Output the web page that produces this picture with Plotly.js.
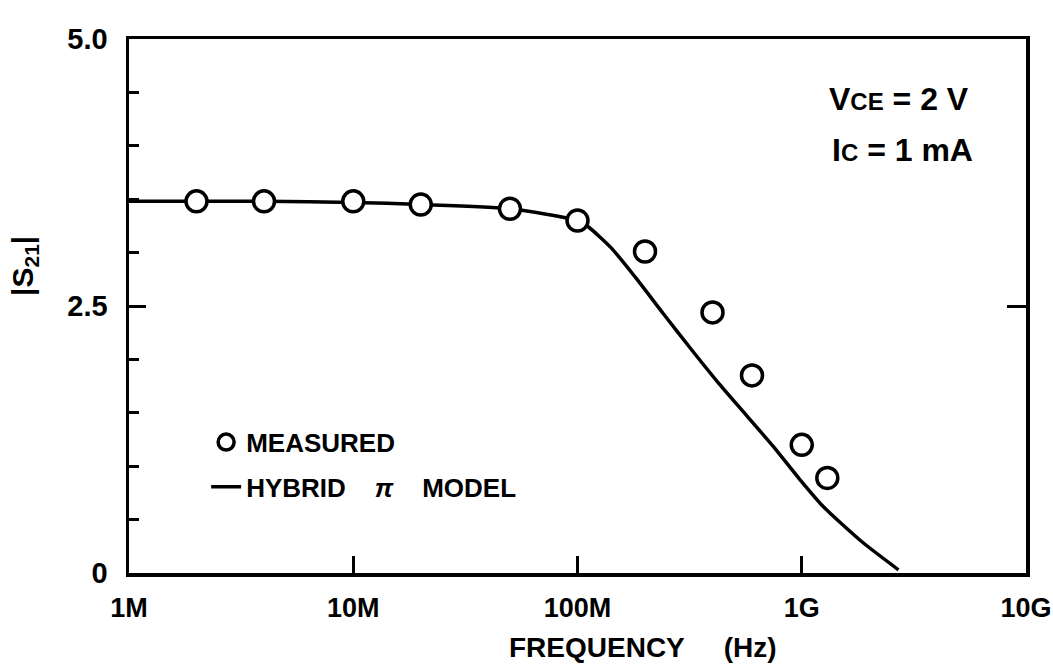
<!DOCTYPE html>
<html>
<head>
<meta charset="utf-8">
<script src="https://cdn.plot.ly/plotly-3.0.1.min.js"></script>
<style>html,body{margin:0;padding:0;background:#fff;}#chart{width:1053px;height:665px;}</style>
</head>
<body>
<div id="chart"></div>
<script>
// Measured |S21| points
const measuredFreq = [2e6, 4e6, 1e7, 2e7, 5e7, 1e8, 2e8, 4e8, 6e8, 1e9, 1.3e9];
const measuredS21  = [3.48, 3.48, 3.48, 3.45, 3.41, 3.30, 3.01, 2.44, 1.85, 1.20, 0.89];

// Hybrid-pi model curve
const modelFreq = [1e6, 2e6, 4e6, 1e7, 2e7, 5e7, 1e8, 1.12e8, 1.42e8, 1.81e8, 2.41e8, 3.2e8, 4.21e8, 5.59e8, 7.43e8, 9.77e8, 1.25e9, 1.86e9, 2.7e9];
const modelS21  = [3.48, 3.48, 3.48, 3.47, 3.45, 3.41, 3.30, 3.24, 3.04, 2.77, 2.43, 2.10, 1.79, 1.49, 1.19, 0.88, 0.62, 0.29, 0.03];

const xTickVals = [1e6, 1e7, 1e8, 1e9, 1e10];
const xTickText = ['1M', '10M', '100M', '1G', '10G'];
const yTickVals = [0, 2.5, 5];
const yTickText = ['0', '2.5', '5.0'];

const FONT = 'Liberation Sans, Arial, sans-serif';
const NB = '\u00a0';

const traces = [
  {
    x: modelFreq, y: modelS21, type: 'scatter', mode: 'lines',
    name: 'HYBRID' + NB + NB + NB + NB + '<i>π</i>' + NB + NB + NB + NB + 'MODEL',
    line: {color: '#000', width: 3.5, shape: 'spline', smoothing: 0.6},
    legendgroup: 'b', legendrank: 2, hoverinfo: 'skip'
  },
  {
    x: measuredFreq, y: measuredS21, type: 'scatter', mode: 'markers',
    yaxis: 'y2',
    name: 'MEASURED',
    marker: {symbol: 'circle', size: 21, color: '#fff', line: {color: '#000', width: 3.5}},
    legendgroup: 'a', legendrank: 1
  }
];

const layout = {
  width: 1053, height: 665,
  margin: {l: 129, r: 27, t: 39, b: 92},
  paper_bgcolor: '#fff', plot_bgcolor: '#fff',
  font: {family: FONT, color: '#000'},
  showlegend: true,
  legend: {
    x: 0.086, y: 0.289, xanchor: 'left', yanchor: 'top',
    bgcolor: 'rgba(0,0,0,0)', borderwidth: 0,
    font: {family: FONT, size: 26, weight: 'bold', color: '#000'},
    traceorder: 'grouped', tracegroupgap: 8
  },
  xaxis: {
    type: 'log', range: [6, 10],
    tickvals: xTickVals, ticktext: xTickText,
    ticks: 'inside', ticklen: 17, tickwidth: 3, tickcolor: '#000',
    showline: true, linewidth: 3.5, linecolor: '#000', mirror: true,
    showgrid: false, zeroline: false,
    tickfont: {family: FONT, size: 27, weight: 'bold', color: '#000'},
    ticklabelstandoff: 8
  },
  yaxis: {
    range: [0, 5],
    tickvals: yTickVals, ticktext: yTickText,
    ticks: 'inside', ticklen: 17, tickwidth: 3, tickcolor: '#000',
    minor: {dtick: 0.5, ticks: 'inside', ticklen: 10, tickwidth: 3, tickcolor: '#000', showgrid: false},
    showline: true, linewidth: 3.5, linecolor: '#000', mirror: true,
    showgrid: false, zeroline: false,
    tickfont: {family: FONT, size: 29, weight: 'bold', color: '#000'},
    ticklabelstandoff: 12
  },
  yaxis2: {
    overlaying: 'y', side: 'right', anchor: 'x', range: [0, 5],
    tickvals: [2.5], ticktext: [''], ticks: 'inside', ticklen: 19, tickwidth: 3, tickcolor: '#000',
    showticklabels: false, showline: false, showgrid: false, zeroline: false
  },
  annotations: [
    {xref: 'paper', yref: 'paper', x: -0.116, y: 0.575, xanchor: 'center', yanchor: 'middle',
     textangle: -90, showarrow: false,
     text: '|S<sub>21</sub>|', font: {family: FONT, size: 30, weight: 'bold', color: '#000'}},
    {xref: 'paper', yref: 'paper', x: 0.573, y: -0.14, xanchor: 'center', yanchor: 'middle',
     showarrow: false,
     text: 'FREQUENCY' + NB + NB + NB + NB + NB + '(Hz)', font: {family: FONT, size: 28, weight: 'bold', color: '#000'}},
    {xref: 'paper', yref: 'paper', x: 0.778, y: 0.888, xanchor: 'left', yanchor: 'middle',
     showarrow: false,
     text: 'V<span style="font-size:24px">CE</span> = 2 V', font: {family: FONT, size: 32, weight: 'bold', color: '#000'}},
    {xref: 'paper', yref: 'paper', x: 0.781, y: 0.792, xanchor: 'left', yanchor: 'middle',
     showarrow: false,
     text: 'I<span style="font-size:24px">C</span> = 1 mA', font: {family: FONT, size: 32, weight: 'bold', color: '#000'}}
  ]
};

Plotly.newPlot('chart', traces, layout, {displayModeBar: false, staticPlot: true});
</script>
</body>
</html>
